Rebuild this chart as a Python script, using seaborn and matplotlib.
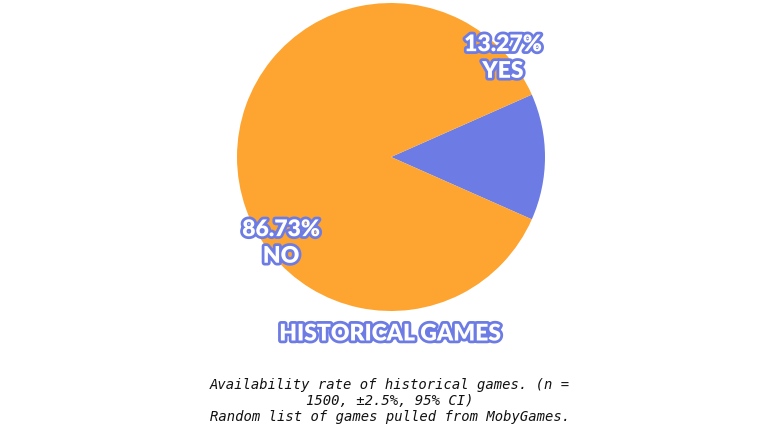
import matplotlib
matplotlib.use("Agg")
import matplotlib.pyplot as plt
import matplotlib.patheffects as pe
import seaborn as sns

categories = ["YES", "NO"]
values = [13.27, 86.73]
pct_labels = ["13.27%", "86.73%"]
title = "HISTORICAL GAMES"
caption = ("Availability rate of historical games. (n =\n"
           "1500, \u00b12.5%, 95% CI)\n"
           "Random list of games pulled from MobyGames.")

sns.set_style("white")
colors = ["#6c7ce4", "#fea430"]

fig = plt.figure(figsize=(7.7, 4.33), dpi=100)
ax = fig.add_axes([237 / 770, (433 - 311) / 433, 308 / 770, 308 / 433])
start = -values[0] * 3.6 / 2
ax.pie(values, colors=colors, startangle=start, counterclock=True,
       wedgeprops=dict(linewidth=0))
ax.set_xlim(-1, 1)
ax.set_ylim(-1, 1)
ax.set_aspect("equal")
ax.axis("off")

outline = [pe.withStroke(linewidth=4, foreground="#6c7ce4")]
label_pos = [(0.727, 0.643), (-0.714, -0.558)]
for (x, y), pl, cat in zip(label_pos, pct_labels, categories):
    ax.text(x, y, pl + "\n" + cat, ha="center", va="center", color="white",
            fontsize=16.5, fontfamily="Lato", fontweight="heavy",
            linespacing=1.33, path_effects=outline)

fig.text(390 / 770, 1 - 334 / 433, title, ha="center", va="center",
         color="white", fontsize=16.5, fontfamily="Lato", fontweight="heavy",
         path_effects=outline)

fig.text(390 / 770, 1 - 401 / 433, caption, ha="center", va="center",
         color="#111111", fontsize=10, fontfamily="DejaVu Sans Mono",
         fontstyle="italic", linespacing=1.15)

fig.savefig("out.png", dpi=100, facecolor="white")
